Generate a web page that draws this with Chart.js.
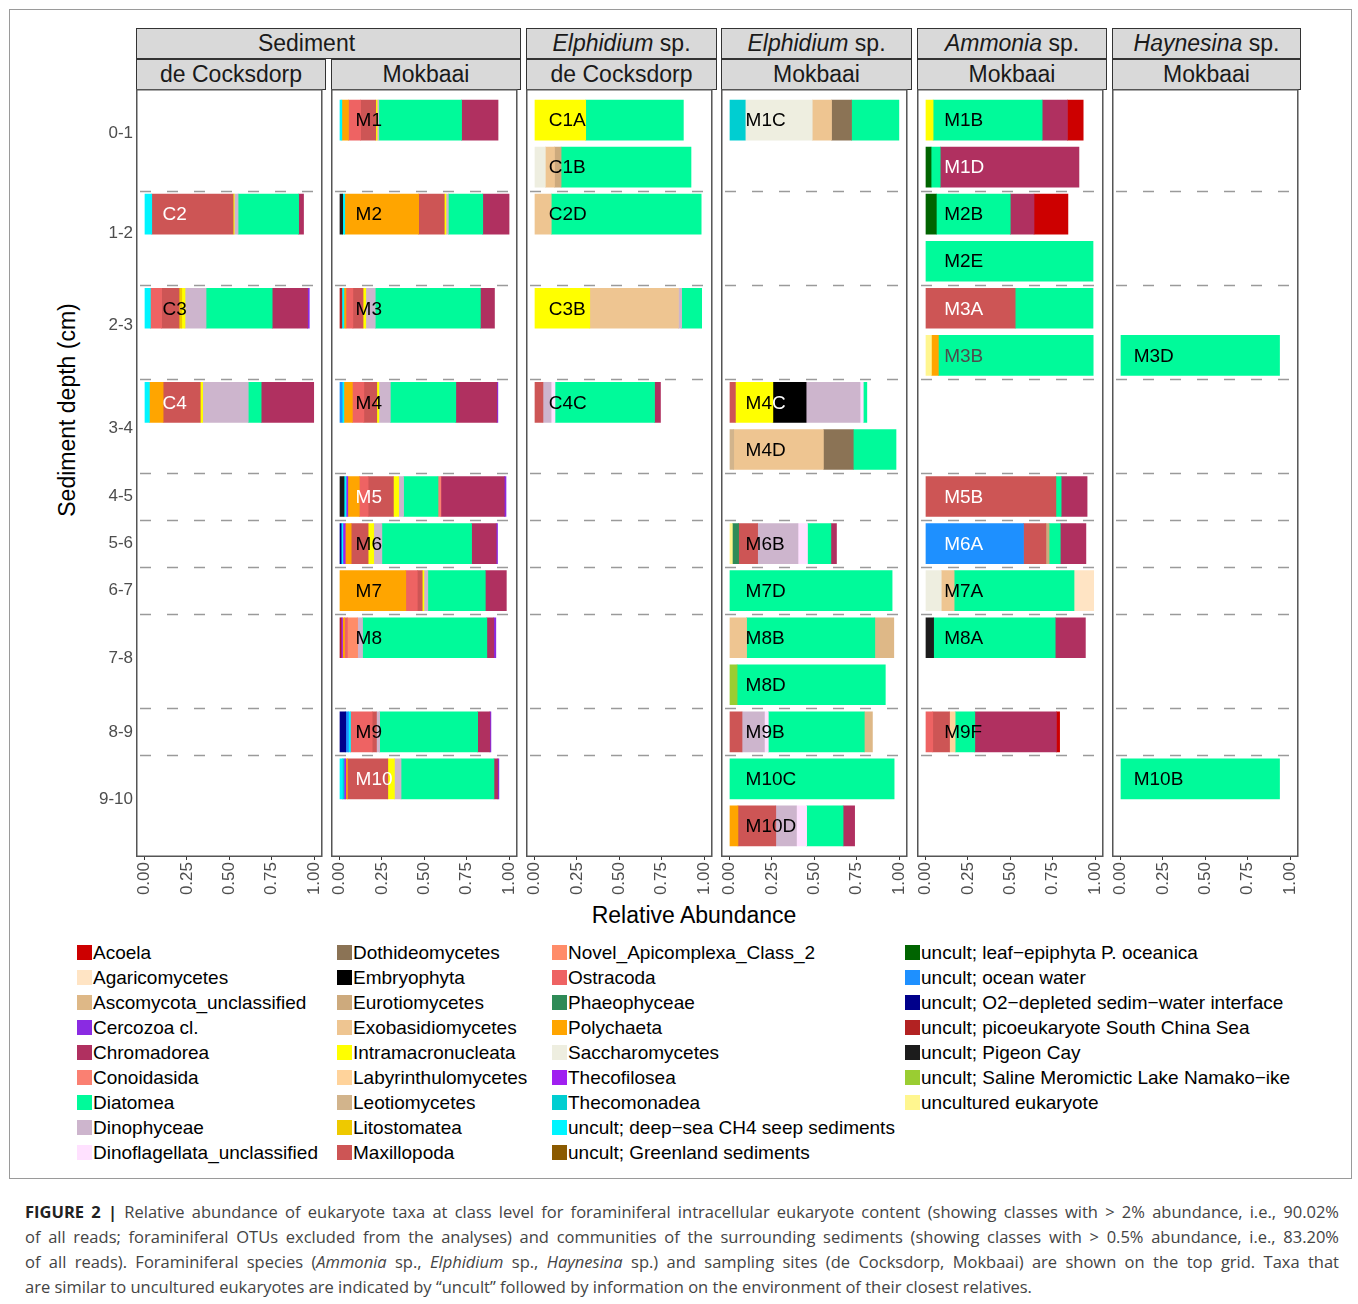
<!DOCTYPE html>
<html>
<head>
<meta charset="utf-8">
<script src="https://cdn.jsdelivr.net/npm/chart.js@4.4.0/dist/chart.umd.min.js"></script>
<style>
  body { margin: 0; background: #fff; font-family: "Liberation Sans", Arial, Helvetica, sans-serif; }
  #fig { position: relative; width: 1358px; height: 1304px; overflow: hidden; }
  #frame { position: absolute; left: 9px; top: 9px; width: 1343px; height: 1170px; border: 1px solid #9a9a9a; box-sizing: border-box; }
  .strip { position: absolute; box-sizing: border-box; height: 31px; background: #d9d9d9; border: 1px solid #333;
           font-size: 23px; line-height: 29px; text-align: center; color: #1a1a1a; white-space: nowrap; }
  canvas { position: absolute; }
  .title { position: absolute; font-size: 23px; color: #000; white-space: nowrap; }
  .leg { position: absolute; font-size: 19px; line-height: 22px; color: #000; white-space: nowrap; }
  .leg i { display: inline-block; width: 15px; height: 15px; vertical-align: -1px; margin-right: 1px; }
  #caption { position: absolute; left: 25px; top: 1199px; width: 1314px; font-family: "Open Sans", sans-serif;
             font-size: 16.5px; line-height: 25px; color: #444; }
  #caption div { text-align: justify; text-align-last: justify; white-space: nowrap; }
  #caption div.last { text-align-last: left; }
</style>
</head>
<body>
<div id="fig">
  <div id="frame"></div>

  <div class="strip" style="left:136px;top:28px;width:385px;padding-right:44px;">Sediment</div>
  <div class="strip" style="left:526px;top:28px;width:191px;"><em>Elphidium</em> sp.</div>
  <div class="strip" style="left:721px;top:28px;width:191px;"><em>Elphidium</em> sp.</div>
  <div class="strip" style="left:917px;top:28px;width:190px;"><em>Ammonia</em> sp.</div>
  <div class="strip" style="left:1112px;top:28px;width:189px;"><em>Haynesina</em> sp.</div>

  <div class="strip" style="left:136px;top:59px;width:190px;">de Cocksdorp</div>
  <div class="strip" style="left:331px;top:59px;width:190px;">Mokbaai</div>
  <div class="strip" style="left:526px;top:59px;width:191px;">de Cocksdorp</div>
  <div class="strip" style="left:721px;top:59px;width:191px;">Mokbaai</div>
  <div class="strip" style="left:917px;top:59px;width:190px;">Mokbaai</div>
  <div class="strip" style="left:1112px;top:59px;width:189px;">Mokbaai</div>

  <div class="title" style="left:67px;top:410px;transform:translate(-50%,-50%) rotate(-90deg);">Sediment depth (cm)</div>
  <div class="title" style="left:694px;top:915px;transform:translate(-50%,-50%);">Relative Abundance</div>

  <div id="legend"></div>

  <div id="caption">
    <div><b style="color:#222">FIGURE 2 |</b> Relative abundance of eukaryote taxa at class level for foraminiferal intracellular eukaryote content (showing classes with &gt; 2% abundance, i.e., 90.02%</div>
    <div>of all reads; foraminiferal OTUs excluded from the analyses) and communities of the surrounding sediments (showing classes with &gt; 0.5% abundance, i.e., 83.20%</div>
    <div>of all reads). Foraminiferal species (<i>Ammonia</i> sp., <i>Elphidium</i> sp., <i>Haynesina</i> sp.) and sampling sites (de Cocksdorp, Mokbaai) are shown on the top grid. Taxa that</div>
    <div class="last">are similar to uncultured eukaryotes are indicated by “uncult” followed by information on the environment of their closest relatives.</div>
  </div>
</div>

<script>
// taxa in legend order
const taxa = [
  "Acoela", "Agaricomycetes", "Ascomycota_unclassified", "Cercozoa cl.", "Chromadorea",
  "Conoidasida", "Diatomea", "Dinophyceae", "Dinoflagellata_unclassified",
  "Dothideomycetes", "Embryophyta", "Eurotiomycetes", "Exobasidiomycetes", "Intramacronucleata",
  "Labyrinthulomycetes", "Leotiomycetes", "Litostomatea", "Maxillopoda",
  "Novel_Apicomplexa_Class_2", "Ostracoda", "Phaeophyceae", "Polychaeta", "Saccharomycetes",
  "Thecofilosea", "Thecomonadea", "uncult; deep-sea CH4 seep sediments", "uncult; Greenland sediments",
  "uncult; leaf-epiphyta P. oceanica", "uncult; ocean water", "uncult; O2-depleted sedim-water interface",
  "uncult; picoeukaryote South China Sea", "uncult; Pigeon Cay", "uncult; Saline Meromictic Lake Namako-ike",
  "uncultured eukaryote"
];
const taxonColours = [
  "#CD0000", "#FFE4C4", "#DEB887", "#8A2BE2", "#B03060",
  "#FA8072", "#00FA9A", "#CDB5CD", "#FFE1FF",
  "#8B7355", "#000000", "#CDAA7D", "#EEC591", "#FFFF00",
  "#FFD39B", "#D2B48C", "#EEC900", "#CD5555",
  "#FF8C69", "#EE6363", "#2E8B57", "#FFA500", "#EEEEE0",
  "#A020F0", "#00CED1", "#00F5FF", "#8B5A00",
  "#006400", "#1E90FF", "#00008B",
  "#B22222", "#1C1C1C", "#9ACD32",
  "#FFF68F"
];

// order in which the classes are stacked, from 0 outwards
const stackOrder = [
  "uncultured eukaryote", "uncult; Saline Meromictic Lake Namako-ike", "uncult; Pigeon Cay",
  "uncult; picoeukaryote South China Sea", "uncult; O2-depleted sedim-water interface", "uncult; ocean water",
  "uncult; leaf-epiphyta P. oceanica", "uncult; Greenland sediments", "uncult; deep-sea CH4 seep sediments",
  "Thecomonadea", "Thecofilosea", "Saccharomycetes", "Polychaeta", "Phaeophyceae", "Ostracoda",
  "Novel_Apicomplexa_Class_2", "Maxillopoda", "Litostomatea", "Leotiomycetes", "Labyrinthulomycetes",
  "Intramacronucleata", "Exobasidiomycetes", "Eurotiomycetes", "Embryophyta", "Dothideomycetes",
  "Dinophyceae", "Dinoflagellata_unclassified", "Diatomea", "Conoidasida", "Chromadorea", "Cercozoa cl.",
  "Ascomycota_unclassified", "Agaricomycetes", "Acoela"
];

// y axis: 16 sample rows, grouped by depth
const depthLabels = ["0-1", "1-2", "2-3", "3-4", "4-5", "5-6", "6-7", "7-8", "8-9", "9-10"];
const depthTickRows = [0.28, 2.4, 4.36, 6.54, 8, 9, 10, 11.43, 13, 14.43];
const depthBreaks = [1.5, 3.5, 5.5, 7.5, 8.5, 9.5, 10.5, 12.5, 13.5];
const xTicks = [0, 0.25, 0.5, 0.75, 1];

// samples of each panel and the row they sit on
const sedCocksdorpSamples = ["C2", "C3", "C4"];
const sedCocksdorpRows = [2, 4, 6];
const sedMokbaaiSamples = ["M1", "M2", "M3", "M4", "M5", "M6", "M7", "M8", "M9", "M10"];
const sedMokbaaiRows = [0, 2, 4, 6, 8, 9, 10, 11, 13, 14];
const elphCocksdorpSamples = ["C1A", "C1B", "C2D", "C3B", "C4C"];
const elphCocksdorpRows = [0, 1, 2, 4, 6];
const elphMokbaaiSamples = ["M1C", "M4C", "M4D", "M6B", "M7D", "M8B", "M8D", "M9B", "M10C", "M10D"];
const elphMokbaaiRows = [0, 6, 7, 9, 10, 11, 12, 13, 14, 15];
const ammoniaSamples = ["M1B", "M1D", "M2B", "M2E", "M3A", "M3B", "M5B", "M6A", "M7A", "M8A", "M9F"];
const ammoniaRows = [0, 1, 2, 3, 4, 5, 8, 9, 10, 11, 13];
const haynesinaSamples = ["M3D", "M10B"];
const haynesinaRows = [5, 14];

// relative abundance per sample
const C2 = [["uncult; deep-sea CH4 seep sediments", 0.043], ["Maxillopoda", 0.48], ["Intramacronucleata", 0.006], ["Dinophyceae", 0.023], ["Diatomea", 0.357], ["Chromadorea", 0.029]];
const C3 = [["uncult; deep-sea CH4 seep sediments", 0.035], ["Ostracoda", 0.066], ["Maxillopoda", 0.103], ["Litostomatea", 0.016], ["Intramacronucleata", 0.019], ["Dinophyceae", 0.124], ["Diatomea", 0.39], ["Chromadorea", 0.209], ["Cercozoa cl.", 0.01]];
const C4 = [["uncult; deep-sea CH4 seep sediments", 0.029], ["Polychaeta", 0.081], ["Maxillopoda", 0.219], ["Intramacronucleata", 0.014], ["Dinophyceae", 0.269], ["Diatomea", 0.076], ["Chromadorea", 0.31]];

const M1 = [["uncult; deep-sea CH4 seep sediments", 0.014], ["Polychaeta", 0.039], ["Ostracoda", 0.072], ["Maxillopoda", 0.089], ["Intramacronucleata", 0.008], ["Dinophyceae", 0.01], ["Diatomea", 0.488], ["Chromadorea", 0.215]];
const M2 = [["uncult; Pigeon Cay", 0.019], ["uncult; deep-sea CH4 seep sediments", 0.012], ["Polychaeta", 0.436], ["Maxillopoda", 0.151], ["Intramacronucleata", 0.01], ["Dinophyceae", 0.014], ["Diatomea", 0.203], ["Chromadorea", 0.155]];
const M3 = [["uncult; picoeukaryote South China Sea", 0.014], ["uncult; deep-sea CH4 seep sediments", 0.012], ["Polychaeta", 0.012], ["Ostracoda", 0.041], ["Maxillopoda", 0.06], ["Intramacronucleata", 0.016], ["Dinophyceae", 0.056], ["Diatomea", 0.62], ["Chromadorea", 0.083]];
const M4 = [["uncult; ocean water", 0.016], ["uncult; deep-sea CH4 seep sediments", 0.01], ["Polychaeta", 0.05], ["Ostracoda", 0.068], ["Maxillopoda", 0.076], ["Intramacronucleata", 0.012], ["Dinophyceae", 0.068], ["Diatomea", 0.386], ["Chromadorea", 0.242], ["Cercozoa cl.", 0.006]];
const M5 = [["uncult; Pigeon Cay", 0.027], ["uncult; deep-sea CH4 seep sediments", 0.012], ["Thecofilosea", 0.01], ["Polychaeta", 0.068], ["Ostracoda", 0.052], ["Maxillopoda", 0.149], ["Intramacronucleata", 0.031], ["Dinophyceae", 0.029], ["Diatomea", 0.203], ["Conoidasida", 0.017], ["Chromadorea", 0.374], ["Cercozoa cl.", 0.01]];
const M6 = [["uncult; O2-depleted sedim-water interface", 0.01], ["uncult; deep-sea CH4 seep sediments", 0.01], ["Thecofilosea", 0.014], ["Polychaeta", 0.035], ["Maxillopoda", 0.1], ["Intramacronucleata", 0.033], ["Dinophyceae", 0.048], ["Diatomea", 0.529], ["Chromadorea", 0.145], ["Cercozoa cl.", 0.008]];
const M7 = [["Polychaeta", 0.391], ["Ostracoda", 0.068], ["Maxillopoda", 0.029], ["Intramacronucleata", 0.01], ["Dinophyceae", 0.023], ["Diatomea", 0.339], ["Chromadorea", 0.124]];
const M8 = [["uncult; picoeukaryote South China Sea", 0.01], ["Thecofilosea", 0.008], ["Polychaeta", 0.012], ["Ostracoda", 0.017], ["Novel_Apicomplexa_Class_2", 0.06], ["Dinophyceae", 0.029], ["Diatomea", 0.733], ["Chromadorea", 0.041], ["Cercozoa cl.", 0.012]];
const M9 = [["uncult; O2-depleted sedim-water interface", 0.037], ["uncult; ocean water", 0.016], ["uncult; deep-sea CH4 seep sediments", 0.012], ["Ostracoda", 0.128], ["Maxillopoda", 0.025], ["Dinophyceae", 0.019], ["Diatomea", 0.578], ["Chromadorea", 0.072], ["Cercozoa cl.", 0.006]];
const M10 = [["uncult; deep-sea CH4 seep sediments", 0.017], ["Thecomonadea", 0.01], ["Thecofilosea", 0.01], ["Polychaeta", 0.01], ["Maxillopoda", 0.238], ["Intramacronucleata", 0.039], ["Dinophyceae", 0.039], ["Diatomea", 0.548], ["Chromadorea", 0.023], ["Cercozoa cl.", 0.006]];

const C1A = [["Intramacronucleata", 0.302], ["Diatomea", 0.576]];
const C1B = [["Saccharomycetes", 0.064], ["Exobasidiomycetes", 0.054], ["Eurotiomycetes", 0.039], ["Diatomea", 0.766]];
const C2D = [["Exobasidiomycetes", 0.099], ["Diatomea", 0.884]];
const C3B = [["Intramacronucleata", 0.326], ["Exobasidiomycetes", 0.523], ["Dinophyceae", 0.019], ["Diatomea", 0.118]];
const C4C = [["Maxillopoda", 0.05], ["Dinophyceae", 0.048], ["Dinoflagellata_unclassified", 0.023], ["Diatomea", 0.587], ["Chromadorea", 0.035]];

const M1C = [["Thecomonadea", 0.093], ["Saccharomycetes", 0.395], ["Exobasidiomycetes", 0.114], ["Dothideomycetes", 0.118], ["Diatomea", 0.279]];
const M4C = [["Maxillopoda", 0.035], ["Intramacronucleata", 0.221], ["Embryophyta", 0.196], ["Dinophyceae", 0.318], ["Dinoflagellata_unclassified", 0.019], ["Diatomea", 0.021]];
const M4D = [["Leotiomycetes", 0.025], ["Exobasidiomycetes", 0.529], ["Dothideomycetes", 0.176], ["Diatomea", 0.252]];
const M6B = [["uncultured eukaryote", 0.017], ["Phaeophyceae", 0.037], ["Maxillopoda", 0.112], ["Dinophyceae", 0.238], ["Dinoflagellata_unclassified", 0.056], ["Diatomea", 0.138], ["Chromadorea", 0.033]];
const M7D = [["Diatomea", 0.959]];
const M8B = [["Exobasidiomycetes", 0.101], ["Diatomea", 0.756], ["Ascomycota_unclassified", 0.112]];
const M8D = [["uncult; Saline Meromictic Lake Namako-ike", 0.045], ["Diatomea", 0.874]];
const M9B = [["Maxillopoda", 0.074], ["Dinophyceae", 0.132], ["Dinoflagellata_unclassified", 0.023], ["Diatomea", 0.566], ["Ascomycota_unclassified", 0.048]];
const M10C = [["Diatomea", 0.971]];
const M10D = [["Polychaeta", 0.05], ["Maxillopoda", 0.223], ["Dinophyceae", 0.122], ["Dinoflagellata_unclassified", 0.06], ["Diatomea", 0.215], ["Chromadorea", 0.068]];

const M1B = [["Intramacronucleata", 0.045], ["Diatomea", 0.643], ["Chromadorea", 0.149], ["Acoela", 0.093]];
const M1D = [["uncult; leaf-epiphyta P. oceanica", 0.033], ["Diatomea", 0.054], ["Chromadorea", 0.818]];
const M2B = [["uncult; leaf-epiphyta P. oceanica", 0.064], ["Diatomea", 0.436], ["Chromadorea", 0.14], ["Acoela", 0.2]];
const M2E = [["Diatomea", 0.988]];
const M3A = [["Maxillopoda", 0.529], ["Diatomea", 0.459]];
const M3B = [["uncultured eukaryote", 0.035], ["Polychaeta", 0.041], ["Diatomea", 0.913]];
const M5B = [["Maxillopoda", 0.769], ["Diatomea", 0.031], ["Chromadorea", 0.153]];
const M6A = [["uncult; ocean water", 0.578], ["Maxillopoda", 0.132], ["Eurotiomycetes", 0.019], ["Diatomea", 0.066], ["Chromadorea", 0.151]];
const M7A = [["Saccharomycetes", 0.093], ["Exobasidiomycetes", 0.076], ["Diatomea", 0.707], ["Agaricomycetes", 0.116]];
const M8A = [["uncult; Pigeon Cay", 0.048], ["Diatomea", 0.717], ["Chromadorea", 0.178]];
const M9F = [["Ostracoda", 0.043], ["Maxillopoda", 0.099], ["Labyrinthulomycetes", 0.033], ["Diatomea", 0.116], ["Chromadorea", 0.481], ["Acoela", 0.019]];

const M3D = [["Diatomea", 0.938]];
const M10B = [["Diatomea", 0.938]];

const compositions = { C2, C3, C4, M1, M2, M3, M4, M5, M6, M7, M8, M9, M10, C1A, C1B, C2D, C3B, C4C,
  M1C, M4C, M4D, M6B, M7D, M8B, M8D, M9B, M10C, M10D, M1B, M1D, M2B, M2E, M3A, M3B, M5B, M6A, M7A, M8A, M9F, M3D, M10B };

const whiteLabels = ["C2", "C4", "M5", "M10", "M1D", "M3A", "M5B", "M6A"];
const greyLabels = ["M3B"];
const darkTaxa = ["Embryophyta"];   // label text turns white where it runs over these

const FONT = '"Liberation Sans", Arial, Helvetica, sans-serif';

const panels = [
  { left: 136, samples: sedCocksdorpSamples, rows: sedCocksdorpRows, labelAt: 0.107, first: true },
  { left: 331, samples: sedMokbaaiSamples, rows: sedMokbaaiRows, labelAt: 0.095 },
  { left: 526, samples: elphCocksdorpSamples, rows: elphCocksdorpRows, labelAt: 0.084 },
  { left: 721, samples: elphMokbaaiSamples, rows: elphMokbaaiRows, labelAt: 0.095 },
  { left: 917, samples: ammoniaSamples, rows: ammoniaRows, labelAt: 0.11 },
  { left: 1112, samples: haynesinaSamples, rows: haynesinaRows, labelAt: 0.078 }
];

const PANEL_W = 189, PANEL_TOP = 89, PANEL_H = 768, AXIS_H = 48, PAD = 12, TOP_PAD = 18, Y_AXIS_W = 86;

function buildDatasets(samples, rows) {
  let sets = [];
  stackOrder.forEach(function (t) {
    let pts = [];
    samples.forEach(function (s, i) {
      let hit = compositions[s].find(p => p[0] == t);
      if (hit) pts.push({ x: hit[1], y: rows[i] });
    });
    if (pts.length) {
      sets.push({
        label: t,
        data: pts,
        backgroundColor: taxonColours[taxa.indexOf(t)],
        borderWidth: 0,
        barThickness: 40
      });
    }
  });
  return sets;
}

// dashed depth separators, sample names and the panel frame
const panelDecor = {
  id: "panelDecor",
  beforeDatasetsDraw(chart) {
    let ctx = chart.ctx, a = chart.chartArea, y = chart.scales.y;
    ctx.save();
    ctx.strokeStyle = "#9a9a9a";
    ctx.lineWidth = 1.5;
    ctx.setLineDash([11, 16]);
    depthBreaks.forEach(function (b) {
      let py = Math.round(y.getPixelForValue(b)) + 0.5;
      ctx.beginPath();
      ctx.moveTo(a.left + 4, py);
      ctx.lineTo(a.right, py);
      ctx.stroke();
    });
    ctx.restore();
  },
  afterDatasetsDraw(chart, args, opts) {
    let ctx = chart.ctx, a = chart.chartArea;
    let x = chart.scales.x, y = chart.scales.y;
    ctx.save();
    ctx.font = "19px " + FONT;
    ctx.textBaseline = "middle";
    ctx.textAlign = "left";
    opts.samples.forEach(function (s, i) {
      let tx = x.getPixelForValue(opts.labelAt), ty = y.getPixelForValue(opts.rows[i]) + 1;
      ctx.fillStyle = whiteLabels.includes(s) ? "#ffffff" : (greyLabels.includes(s) ? "#4d4d4d" : "#000000");
      ctx.fillText(s, tx, ty);
      // white where the name crosses a very dark segment
      chart.data.datasets.forEach(function (ds, di) {
        if (!darkTaxa.includes(ds.label)) return;
        chart.getDatasetMeta(di).data.forEach(function (el, j) {
          if (ds.data[j].y != opts.rows[i]) return;
          let x0 = Math.min(el.base, el.x), w = Math.abs(el.x - el.base);
          ctx.save();
          ctx.beginPath();
          ctx.rect(x0, el.y - el.height / 2, w, el.height);
          ctx.clip();
          ctx.fillStyle = "#ffffff";
          ctx.fillText(s, tx, ty);
          ctx.restore();
        });
      });
    });
    ctx.strokeStyle = "#555";
    ctx.lineWidth = 1.5;
    ctx.strokeRect(a.left + 0.75, a.top + 0.75, a.right - a.left - 1.5, a.bottom - a.top - 1.5);
    ctx.restore();
  }
};

const fig = document.getElementById("fig");

panels.forEach(function (p) {
  let canvas = document.createElement("canvas");
  let leftExtra = p.first ? Y_AXIS_W : PAD;
  canvas.width = leftExtra + PANEL_W + PAD;
  canvas.height = TOP_PAD + PANEL_H + AXIS_H;
  canvas.style.left = (p.left - leftExtra) + "px";
  canvas.style.top = (PANEL_TOP - TOP_PAD) + "px";
  fig.appendChild(canvas);

  new Chart(canvas, {
    type: "bar",
    data: { datasets: buildDatasets(p.samples, p.rows) },
    plugins: [panelDecor],
    options: {
      indexAxis: "y",
      responsive: false,
      animation: false,
      events: [],
      layout: { padding: { left: p.first ? 0 : PAD, right: PAD, top: TOP_PAD, bottom: 0 } },
      plugins: {
        legend: { display: false },
        tooltip: { enabled: false },
        panelDecor: { samples: p.samples, rows: p.rows, labelAt: p.labelAt }
      },
      scales: {
        x: {
          type: "linear",
          min: -0.05,
          max: 1.05,
          stacked: true,
          afterBuildTicks: function (s) { s.ticks = xTicks.map(v => ({ value: v })); },
          afterFit: function (s) { s.height = AXIS_H; },
          ticks: {
            autoSkip: false,
            minRotation: 90,
            maxRotation: 90,
            padding: 2,
            color: "#4d4d4d",
            font: { size: 17, family: FONT },
            callback: v => v.toFixed(2)
          },
          grid: { display: true, drawOnChartArea: false, drawTicks: true, tickLength: 3, color: "#333" },
          border: { display: false }
        },
        y: {
          type: "linear",
          min: -0.66,
          max: 15.66,
          reverse: true,
          stacked: true,
          offset: false,
          display: p.first ? true : false,
          afterBuildTicks: function (s) { s.ticks = depthTickRows.map(v => ({ value: v })); },
          afterFit: function (s) { s.width = p.first ? Y_AXIS_W : 0; },
          ticks: {
            autoSkip: false,
            padding: 3,
            color: "#4d4d4d",
            font: { size: 17, family: FONT },
            callback: (v, i) => depthLabels[i]
          },
          grid: { display: true, offset: false, drawOnChartArea: false, drawTicks: false, tickLength: 0 },
          border: { display: false }
        }
      }
    }
  });
});

// legend, 4 columns
const legendCols = [77, 337, 552, 905];
const legend = document.getElementById("legend");
taxa.forEach(function (t, i) {
  let col = Math.floor(i / 9), row = i % 9;
  let item = document.createElement("div");
  item.className = "leg";
  item.style.left = legendCols[col] + "px";
  item.style.top = (953 - 11 + row * 25) + "px";
  item.innerHTML = '<i style="background:' + taxonColours[i] + '"></i>' + t.replace(/-/g, "\u2212");
  legend.appendChild(item);
});
</script>
</body>
</html>
